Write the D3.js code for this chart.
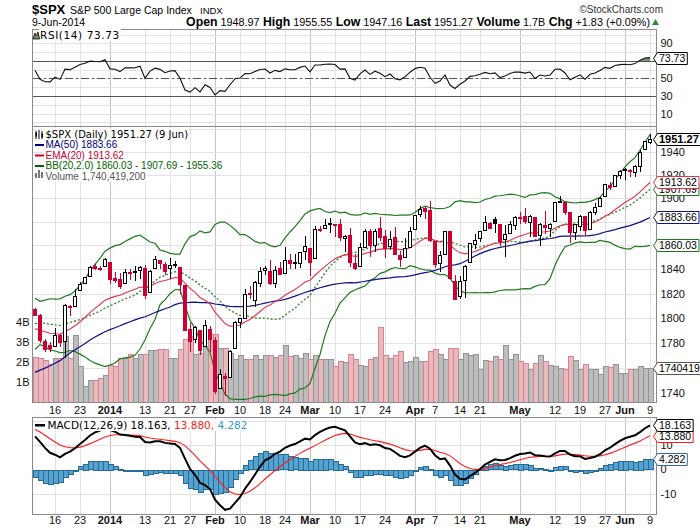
<!DOCTYPE html>
<html>
<head>
<meta charset="utf-8">
<script src="https://cdn.jsdelivr.net/npm/d3@7"></script>
<style>
  body { margin: 0; background: #fff; }
  svg { display: block; }
</style>
</head>
<body>
<div id="chart"></div>
<script>
// trading days shown, Dec 10 2013 .. Jun 9 2014 (MM-DD)
const days = ("12-10 12-11 12-12 12-13 12-16 12-17 12-18 12-19 12-20 12-23 12-24 12-26 12-27 12-30 12-31 " +
  "01-02 01-03 01-06 01-07 01-08 01-09 01-10 01-13 01-14 01-15 01-16 01-17 01-21 01-22 01-23 01-24 01-27 01-28 01-29 01-30 01-31 " +
  "02-03 02-04 02-05 02-06 02-07 02-10 02-11 02-12 02-13 02-14 02-18 02-19 02-20 02-21 02-24 02-25 02-26 02-27 02-28 " +
  "03-03 03-04 03-05 03-06 03-07 03-10 03-11 03-12 03-13 03-14 03-17 03-18 03-19 03-20 03-21 03-24 03-25 03-26 03-27 03-28 03-31 " +
  "04-01 04-02 04-03 04-04 04-07 04-08 04-09 04-10 04-11 04-14 04-15 04-16 04-17 04-21 04-22 04-23 04-24 04-25 04-28 04-29 04-30 " +
  "05-01 05-02 05-05 05-06 05-07 05-08 05-09 05-12 05-13 05-14 05-15 05-16 05-19 05-20 05-21 05-22 05-23 05-27 05-28 05-29 05-30 " +
  "06-02 06-03 06-04 06-05 06-06 06-09").split(" ")

const open = [
  1807.60,1802.76,1781.71,1777.98,1777.48,1786.47,1781.46,1809.00,1810.39,1822.92,
  1828.02,1834.96,1842.97,1841.47,1842.61,1845.86,1833.21,1832.31,1828.71,1837.90,
  1839.00,1840.06,1841.26,1821.36,1840.52,1847.99,1844.23,1841.05,1844.71,1842.29,
  1826.96,1791.03,1783.00,1790.15,1777.17,1790.88,1782.68,1743.82,1753.38,1752.99,
  1776.01,1796.20,1800.45,1820.12,1814.82,1828.46,1839.03,1838.90,1829.24,1841.07,
  1836.78,1847.66,1845.79,1844.90,1855.12,1857.68,1849.23,1874.05,1874.18,1878.52,
  1877.86,1878.26,1866.15,1869.06,1845.07,1842.81,1858.92,1872.25,1860.09,1874.53,
  1867.67,1859.48,1867.09,1852.11,1850.07,1859.16,1873.96,1886.61,1891.43,1890.25,
  1863.92,1845.48,1852.64,1872.28,1830.65,1818.18,1831.45,1846.01,1861.73,1865.79,
  1872.57,1879.32,1881.97,1877.72,1865.00,1870.78,1877.10,1884.39,1885.30,1879.45,
  1883.69,1868.53,1877.39,1875.27,1880.03,1896.75,1897.13,1888.16,1871.19,1876.66,
  1884.88,1873.34,1888.19,1893.32,1902.01,1911.77,1910.60,1920.33,1923.87,1923.07,
  1923.06,1928.52,1942.41,1948.97]

const high = [
  1808.52,1802.97,1782.99,1780.92,1792.22,1786.77,1811.08,1810.88,1823.75,1829.75,
  1833.32,1842.84,1844.89,1842.47,1849.44,1845.86,1838.24,1837.16,1840.10,1840.02,
  1843.23,1843.15,1843.45,1839.26,1850.84,1847.99,1846.04,1849.31,1846.87,1842.29,
  1826.96,1795.98,1793.87,1790.15,1798.77,1793.88,1784.83,1758.73,1755.79,1774.06,
  1798.03,1799.94,1823.54,1826.55,1830.25,1841.65,1842.87,1847.50,1842.79,1846.13,
  1858.71,1852.91,1852.65,1854.53,1867.92,1857.68,1876.23,1876.53,1881.94,1883.57,
  1877.87,1882.35,1868.38,1874.40,1852.44,1862.30,1873.76,1874.14,1873.49,1883.97,
  1873.34,1871.87,1875.92,1855.55,1866.63,1875.18,1885.84,1893.17,1893.80,1897.28,
  1864.04,1854.95,1872.43,1872.53,1835.07,1834.19,1844.02,1862.31,1869.63,1871.89,
  1884.89,1879.75,1884.06,1877.72,1877.01,1880.60,1885.20,1888.59,1891.33,1885.51,
  1883.69,1878.83,1889.07,1878.57,1897.13,1902.17,1897.13,1888.16,1878.28,1886.00,
  1884.88,1888.80,1896.33,1901.26,1912.28,1914.46,1920.03,1924.03,1925.88,1925.07,
  1928.63,1941.74,1949.44,1955.55]

const low = [
  1801.75,1780.09,1772.28,1772.45,1777.48,1777.05,1767.99,1801.35,1810.25,1822.92,
  1828.02,1834.96,1839.81,1838.77,1842.41,1827.74,1829.13,1823.73,1828.71,1831.40,
  1830.38,1832.43,1815.52,1821.36,1840.52,1840.30,1835.23,1832.38,1840.88,1820.06,
  1790.29,1772.88,1779.49,1770.45,1777.17,1772.26,1739.66,1743.82,1737.92,1752.99,
  1776.01,1791.83,1800.41,1815.97,1809.22,1825.59,1835.01,1826.99,1824.58,1835.60,
  1836.78,1840.19,1840.66,1841.13,1847.67,1834.44,1849.23,1871.11,1874.18,1870.56,
  1867.04,1863.88,1854.38,1841.86,1839.57,1842.81,1858.92,1850.35,1854.63,1863.46,
  1849.69,1855.96,1852.56,1842.11,1850.07,1859.16,1873.96,1883.79,1882.65,1863.26,
  1841.48,1837.49,1852.38,1830.87,1814.36,1815.80,1816.29,1846.01,1856.72,1863.18,
  1872.57,1873.91,1870.24,1859.70,1850.61,1870.78,1872.69,1878.04,1878.50,1866.77,
  1867.72,1859.79,1870.05,1867.02,1880.03,1896.06,1885.77,1862.36,1864.82,1872.42,
  1868.14,1873.34,1885.39,1893.32,1902.01,1907.30,1909.82,1916.64,1915.98,1918.79,
  1918.60,1922.93,1942.41,1947.16]

const close = [
  1802.62,1782.22,1775.50,1775.32,1786.54,1781.00,1810.65,1809.60,1818.32,1827.99,
  1833.32,1842.02,1841.40,1841.07,1848.36,1831.98,1831.37,1826.77,1837.88,1837.49,
  1838.13,1842.37,1819.20,1838.88,1848.38,1845.89,1838.70,1843.80,1844.86,1828.46,
  1790.29,1781.56,1792.50,1774.20,1794.19,1782.59,1741.89,1755.20,1751.64,1773.43,
  1797.02,1799.84,1819.75,1819.26,1829.83,1838.63,1840.76,1828.75,1839.78,1836.25,
  1847.61,1845.12,1845.16,1854.29,1859.45,1845.73,1873.91,1873.81,1877.03,1878.04,
  1877.17,1867.63,1868.20,1846.34,1841.13,1858.83,1872.25,1860.77,1872.01,1866.52,
  1857.44,1865.62,1852.56,1849.04,1857.62,1872.34,1885.52,1890.90,1888.77,1865.09,
  1845.04,1851.96,1872.18,1833.08,1815.69,1830.61,1842.98,1862.31,1864.85,1871.89,
  1879.55,1875.39,1878.61,1863.40,1869.43,1878.33,1883.95,1883.68,1881.14,1884.66,
  1867.72,1878.21,1875.63,1878.48,1896.65,1897.45,1888.53,1870.85,1877.86,1885.08,
  1872.83,1888.03,1892.49,1900.53,1911.91,1909.78,1920.03,1923.57,1924.97,1924.24,
  1927.88,1940.46,1949.44,1951.27]

// volume in billions of shares
const volume = [
  2.28,2.23,2.12,1.92,2.23,2.23,3.33,2.23,3.37,1.83,
  0.80,1.12,1.12,1.25,1.37,1.87,1.83,2.23,2.23,2.42,
  2.23,2.42,2.42,2.63,2.63,2.68,2.67,2.23,2.23,2.67,
  3.17,3.33,2.42,2.50,2.83,3.42,3.42,2.75,2.75,2.50,
  2.17,2.37,2.17,2.17,2.37,2.15,2.37,2.37,2.28,2.37,
  2.87,2.32,2.37,2.25,2.50,2.17,2.37,2.17,2.17,2.17,
  1.83,2.08,2.03,2.42,2.17,1.87,1.83,2.17,2.28,3.78,
  2.37,2.25,2.37,2.58,2.05,2.08,2.30,2.08,2.08,2.58,
  2.67,2.42,2.17,2.75,2.75,2.17,2.50,2.40,2.43,1.67,
  2.12,2.08,2.33,2.17,2.87,2.17,2.42,2.08,2.00,1.67,
  2.00,2.37,2.08,1.88,1.83,1.75,1.70,2.33,2.12,1.67,
  1.92,1.70,1.67,1.42,1.83,1.78,1.92,1.50,1.50,1.70,
  1.70,1.83,1.75,1.74]

// closes Sep 30 .. Dec 9 2013, needed to start the moving averages
const priorClose = [
  1681.55,1695.00,1693.87,1678.66,1690.50,1676.12,1655.45,1656.40,1692.56,1703.20,
  1710.14,1698.06,1721.54,1733.15,1744.50,1744.66,1754.67,1746.38,1752.07,1759.77,
  1762.11,1771.95,1763.31,1756.54,1761.64,1767.93,1762.97,1770.49,1747.15,1770.61,
  1771.89,1767.69,1782.00,1790.62,1798.18,1791.53,1787.87,1781.37,1795.85,1804.76,
  1802.48,1802.75,1807.23,1805.81,1800.90,1795.15,1792.81,1785.03,1805.09,1808.37]

const tickDays = ["12-16","12-23","01-02","01-13","01-21","01-27","02-03","02-10","02-18","02-24",
  "03-03","03-10","03-17","03-24","04-01","04-07","04-14","04-21","05-01","05-12","05-19","05-27","06-02","06-09"]
const tickLabels = ["16","23","2014","13","21","27","Feb","10","18","24",
  "Mar","10","17","24","Apr","7","14","21","May","12","19","27","Jun","9"]

const priceTicks = [1740,1760,1780,1800,1820,1840,1860,1880,1900,1920,1940,1960]
const volumeTicks = [1,2,3,4]
const rsiTicks = [90,70,50,30,10]
const macdTicks = [10,0,-10]

// last values as printed on the chart
const lastPrice = 1951.27, lastMA50 = 1883.66, lastEMA20 = 1913.62
const lastBB = [1860.03, 1907.69, 1955.36]
const lastVolume = 1740419200, lastRSI = 73.73
const lastMACD = [18.163, 13.880, 4.282]

// ---------- indicators (standard definitions) ----------
const all = priorClose.concat(close)
const off = priorClose.length

function sma(arr, n) {
  return arr.map((_, i) => i < n - 1 ? null : d3.mean(arr.slice(i - n + 1, i + 1)))
}
function ema(arr, n) {
  const k = 2 / (n + 1)
  const s = arr.findIndex(v => v != null)
  const out = arr.map(() => null)
  let prev = d3.mean(arr.slice(s, s + n))
  out[s + n - 1] = prev
  for (let i = s + n; i < arr.length; i++) {
    prev = arr[i] * k + prev * (1 - k)
    out[i] = prev
  }
  return out
}
function stdev(arr, n) {
  return arr.map((_, i) => {
    if (i < n - 1) return null
    const w = arr.slice(i - n + 1, i + 1), m = d3.mean(w)
    return Math.sqrt(d3.mean(w, v => (v - m) * (v - m)))
  })
}
function rsi(arr, n) {
  const out = arr.map(() => null)
  let g = 0, l = 0
  for (let i = 1; i <= n; i++) {
    const d = arr[i] - arr[i - 1]
    if (d > 0) g += d; else l -= d
  }
  g /= n; l /= n
  out[n] = 100 - 100 / (1 + g / l)
  for (let i = n + 1; i < arr.length; i++) {
    const d = arr[i] - arr[i - 1]
    g = (g * (n - 1) + Math.max(d, 0)) / n
    l = (l * (n - 1) + Math.max(-d, 0)) / n
    out[i] = 100 - 100 / (1 + g / l)
  }
  return out
}

const ma50 = sma(all, 50).slice(off)
const ema20 = ema(all, 20).slice(off)
const mid20 = sma(all, 20)
const sd20 = stdev(all, 20)
const bbUp = mid20.map((m, i) => m == null ? null : m + 2 * sd20[i]).slice(off)
const bbDn = mid20.map((m, i) => m == null ? null : m - 2 * sd20[i]).slice(off)
const bbMid = mid20.slice(off)
const rsi14 = rsi(all, 14).slice(off)
const e12 = ema(all, 12), e26 = ema(all, 26)
const macdAll = e12.map((v, i) => (v == null || e26[i] == null) ? null : v - e26[i])
const sigAll = ema(macdAll, 9)
const macd = macdAll.slice(off)
const signal = sigAll.slice(off)
const hist = macd.map((v, i) => v - signal[i])

// ---------- layout ----------
const WIDTH = 700, HEIGHT = 530
const LEFT = 32.5, RIGHT = 656.5
const RSI_P = [29.5, 126.5], MAIN_P = [126.5, 402.5], MACD_P = [417.5, 514.5]
const RED = "#cc0033", GRID = "#e2e2e2", GRID_M = "#c4c4c4", BORDER = "#8a8a8a"
const SANS = "'Liberation Sans', Arial, sans-serif"
const VERD = "'DejaVu Sans', Verdana, sans-serif"

const n = close.length
const idx = d3.range(n)

const x = d3.scaleLinear().domain([-0.5, n + 0.3]).range([LEFT, RIGHT])
const yP = d3.scaleLog().domain([1732.7, 1962.6]).range([MAIN_P[1], MAIN_P[0]])
const yV = d3.scaleLinear().domain([0, 13.8]).range([MAIN_P[1], MAIN_P[0]])
const yR = d3.scaleLinear().domain([-4.6, 105.7]).range([RSI_P[1], RSI_P[0]])
const yM = d3.scaleLinear().domain([-18.5, 21.4]).range([MACD_P[1], MACD_P[0]])

const svg = d3.select("#chart").append("svg")
  .attr("width", WIDTH).attr("height", HEIGHT)
  .style("font-family", SANS)

const defs = svg.append("defs")
function clip(id, top, bottom) {
  defs.append("clipPath").attr("id", id).append("rect")
    .attr("x", LEFT).attr("y", top).attr("width", RIGHT - LEFT).attr("height", bottom - top)
}
clip("cRsi", RSI_P[0], RSI_P[1])
clip("cMain", MAIN_P[0], MAIN_P[1])
clip("cMacd", MACD_P[0], MACD_P[1])
clip("cRsiHi", RSI_P[0], yR(70))
clip("cRsiLo", yR(30), RSI_P[1])

const tickIdx = tickDays.map(d => days.indexOf(d))
const isMonth = l => isNaN(+l) || l.length === 4
const px = k => Math.round(x(k)) + 0.5

// ---------- grids ----------
function panelGrid(panel, yScale, values) {
  const g = svg.append("g").attr("shape-rendering", "crispEdges")
  g.selectAll("line.v").data(tickIdx).join("line")
    .attr("x1", k => px(k)).attr("x2", k => px(k))
    .attr("y1", panel[0]).attr("y2", panel[1])
    .attr("stroke", (k, i) => isMonth(tickLabels[i]) ? GRID_M : GRID)
  g.selectAll("line.h").data(values).join("line")
    .attr("x1", LEFT).attr("x2", RIGHT)
    .attr("y1", v => Math.round(yScale(v)) + 0.5).attr("y2", v => Math.round(yScale(v)) + 0.5)
    .attr("stroke", GRID)
}
panelGrid(RSI_P, yR, d3.range(0, 101, 10))
panelGrid(MAIN_P, yP, priceTicks)
panelGrid(MACD_P, yM, [-10, 0, 10, 20])

// ---------- RSI panel ----------
const rsiG = svg.append("g")
;[70, 30].forEach(v => rsiG.append("line")
  .attr("x1", LEFT).attr("x2", RIGHT).attr("y1", Math.round(yR(v)) + 0.5).attr("y2", Math.round(yR(v)) + 0.5)
  .attr("stroke", "#555").attr("shape-rendering", "crispEdges"))
rsiG.append("line")
  .attr("x1", LEFT).attr("x2", RIGHT).attr("y1", Math.round(yR(50)) + 0.5).attr("y2", Math.round(yR(50)) + 0.5)
  .attr("stroke", "#555").attr("stroke-dasharray", "8,3,2,3").attr("shape-rendering", "crispEdges")

const rsiArea = d3.area().x(k => x(k)).y1(k => yR(rsi14[k]))
rsiG.append("path").datum(idx).attr("d", rsiArea.y0(yR(70)))
  .attr("fill", "#6f946f").attr("clip-path", "url(#cRsiHi)")
rsiG.append("path").datum(idx).attr("d", rsiArea.y0(yR(30)))
  .attr("fill", "#6f946f").attr("clip-path", "url(#cRsiLo)")
rsiG.append("path").datum(idx)
  .attr("d", d3.line().x(k => x(k)).y(k => yR(rsi14[k])))
  .attr("fill", "none").attr("stroke", "#111").attr("stroke-width", 1.1)
  .attr("clip-path", "url(#cRsi)")

// ---------- main panel ----------
const mainG = svg.append("g").attr("clip-path", "url(#cMain)")
const prevClose = k => k === 0 ? priorClose[priorClose.length - 1] : close[k - 1]
const isDown = k => close[k] < prevClose(k)

mainG.append("g").attr("shape-rendering", "crispEdges")
  .selectAll("rect").data(idx).join("rect")
  .attr("x", k => Math.round(x(k)) - 2).attr("width", 5)
  .attr("y", k => Math.round(yV(volume[k]))).attr("height", k => MAIN_P[1] - Math.round(yV(volume[k])))
  .attr("fill", k => isDown(k) ? "#e8b9be" : "#bdbdbd")
  .attr("stroke", k => isDown(k) ? "#d8848f" : "#939393")
  .attr("stroke-width", 1)

const line = arr => d3.line().defined(k => arr[k] != null).x(k => x(k)).y(k => yP(arr[k]))
mainG.append("path").datum(idx).attr("d", line(bbUp)).attr("fill", "none").attr("stroke", "#1f7a1f").attr("stroke-width", 1.2)
mainG.append("path").datum(idx).attr("d", line(bbDn)).attr("fill", "none").attr("stroke", "#1f7a1f").attr("stroke-width", 1.2)
mainG.append("path").datum(idx).attr("d", line(bbMid)).attr("fill", "none").attr("stroke", "#3a8a3a")
  .attr("stroke-width", 1.4).attr("stroke-dasharray", "2,2")
mainG.append("path").datum(idx).attr("d", line(ma50)).attr("fill", "none").attr("stroke", "#10108a").attr("stroke-width", 1.2)
mainG.append("path").datum(idx).attr("d", line(ema20)).attr("fill", "none").attr("stroke", "#e2334f").attr("stroke-width", 1.1)

const candles = mainG.append("g").attr("shape-rendering", "crispEdges")
candles.selectAll("line").data(idx).join("line")
  .attr("x1", k => px(k)).attr("x2", k => px(k))
  .attr("y1", k => yP(high[k])).attr("y2", k => yP(low[k]))
  .attr("stroke", k => isDown(k) ? RED : "#000")
candles.selectAll("rect").data(idx).join("rect")
  .attr("x", k => Math.round(x(k)) - 1.5).attr("width", 3)
  .attr("y", k => Math.round(yP(Math.max(open[k], close[k]))) + 0.5)
  .attr("height", k => Math.max(1, Math.round(Math.abs(yP(open[k]) - yP(close[k])))))
  .attr("fill", k => close[k] >= open[k] ? "#fff" : (isDown(k) ? RED : "#000"))
  .attr("stroke", k => isDown(k) ? RED : "#000")

// ---------- MACD panel ----------
const macdG = svg.append("g").attr("clip-path", "url(#cMacd)")
macdG.append("g").attr("shape-rendering", "crispEdges")
  .selectAll("rect").data(idx).join("rect")
  .attr("x", k => Math.round(x(k)) - 2).attr("width", 5)
  .attr("y", k => Math.round(Math.min(yM(hist[k]), yM(0))))
  .attr("height", k => Math.max(1, Math.round(Math.abs(yM(hist[k]) - yM(0)))))
  .attr("fill", "#57a3cf").attr("stroke", "#276b98")
macdG.append("path").datum(idx)
  .attr("d", d3.line().x(k => x(k)).y(k => yM(signal[k])))
  .attr("fill", "none").attr("stroke", "#ff1a1a").attr("stroke-width", 1.1)
macdG.append("path").datum(idx)
  .attr("d", d3.line().x(k => x(k)).y(k => yM(macd[k])))
  .attr("fill", "none").attr("stroke", "#000").attr("stroke-width", 2)

// ---------- panel borders ----------
;[RSI_P, MAIN_P, MACD_P].forEach(p => svg.append("rect")
  .attr("x", LEFT).attr("y", p[0]).attr("width", RIGHT - LEFT).attr("height", p[1] - p[0])
  .attr("fill", "none").attr("stroke", BORDER).attr("shape-rendering", "crispEdges"))

// ---------- axes labels ----------
// labels that sit right under a value tag are hidden by it on the original
const clear = (scale, tags) => v => tags.every(t => Math.abs(scale(v) - scale(t)) > 5)
function rightLabels(values, scale) {
  svg.append("g").selectAll("text").data(values).join("text")
    .attr("x", RIGHT + 4).attr("y", v => scale(v)).attr("dy", "0.36em")
    .attr("font-size", 11).attr("fill", "#111").text(v => v)
}
rightLabels(rsiTicks.filter(clear(yR, [lastRSI])), yR)
rightLabels(priceTicks.filter(v => v < 1950)
  .filter(clear(yP, [lastMA50, lastBB[0]]))
  .filter(v => Math.abs(yP(v) - yV(lastVolume / 1e9)) > 5), yP)
rightLabels(macdTicks, yM)

svg.append("g").selectAll("text").data(volumeTicks).join("text")
  .attr("x", LEFT - 3).attr("y", v => yV(v)).attr("dy", "0.36em").attr("text-anchor", "end")
  .attr("font-size", 11).attr("fill", "#111").text(v => v + "B")

;[414, 524].forEach(yy => svg.append("g").selectAll("text").data(tickIdx).join("text")
  .attr("x", k => x(k)).attr("y", yy).attr("text-anchor", "middle")
  .attr("font-size", 11).attr("fill", "#111")
  .attr("font-weight", (k, i) => isMonth(tickLabels[i]) ? "bold" : "normal")
  .text((k, i) => tickLabels[i]))

// ---------- value tags ----------
function tag(y, text, color, bold) {
  const g = svg.append("g").attr("transform", `translate(${RIGHT},${Math.round(y) + 0.5})`)
  const t = g.append("text").attr("x", 2.5).attr("dy", "0.36em")
    .attr("font-size", bold ? 11 : 10.5).attr("font-weight", bold ? "bold" : "normal")
    .attr("fill", "#000").text(text)
  const w = t.node().getComputedTextLength() + 2.5
  g.insert("path", "text")
    .attr("d", `M-3,0 L1,-6 H${2 + w} V6 H1 Z`)
    .attr("fill", "#fff").attr("stroke", color).attr("stroke-width", 1)
}
tag(yR(lastRSI), lastRSI.toFixed(2), "#000")
tag(yV(lastVolume / 1e9), String(lastVolume), "#555")
tag(yP(lastBB[0]), lastBB[0].toFixed(2), "#1f7a1f")
tag(yP(lastMA50), lastMA50.toFixed(2), "#10108a")
tag(yP(lastBB[1]), lastBB[1].toFixed(2), "#1f7a1f")
tag(yP(lastEMA20), lastEMA20.toFixed(2), "#e2334f")
tag(yP(lastPrice), lastPrice.toFixed(2), "#000", true)
tag(yM(lastMACD[2]), lastMACD[2].toFixed(3), "#3465a4")
tag(yM(lastMACD[1]), lastMACD[1].toFixed(3), "#ff1a1a")
tag(yM(lastMACD[0]), lastMACD[0].toFixed(3), "#000")

// ---------- legends ----------
function backed(g) {
  g.selectAll("text").each(function () {
    const b = this.getBBox()
    g.insert("rect", "text").attr("x", b.x - 1).attr("y", b.y).attr("width", b.width + 2).attr("height", b.height)
      .attr("fill", "#fff")
  })
}
const lg = svg.append("g")
lg.append("text").attr("x", 45.5).attr("y", 137.5).attr("font-family", VERD).attr("font-size", 10)
  .attr("fill", "#000").text(`$SPX (Daily) ${lastPrice.toFixed(2)} (9 Jun)`)
const legendRows = [
  [`MA(50) ${lastMA50.toFixed(2)}`, "#000080"],
  [`EMA(20) ${lastEMA20.toFixed(2)}`, RED],
  [`BB(20,2.0) ${lastBB[0].toFixed(2)} - ${lastBB[1].toFixed(2)} - ${lastBB[2].toFixed(2)}`, "#006400"],
  [`Volume ${d3.format(",")(lastVolume)}`, "#555"]
]
legendRows.forEach((r, i) => lg.append("text").attr("x", 45.5).attr("y", 148 + i * 10.5)
  .attr("font-size", 10).attr("fill", r[1]).text(r[0]))
backed(lg)
legendRows.slice(0, 3).forEach((r, i) => lg.append("rect").attr("x", 35).attr("y", 144 + i * 10.5)
  .attr("width", 9).attr("height", 2).attr("fill", r[1]))
// candle icon
lg.append("path").attr("d", "M36,131 v8 M39,130 v9 M42,131 v8").attr("stroke", "#000")
lg.append("rect").attr("x", 35.5).attr("y", 132.5).attr("width", 1.5).attr("height", 4).attr("fill", "#000")
lg.append("rect").attr("x", 41.5).attr("y", 133.5).attr("width", 1.5).attr("height", 4).attr("fill", "#000")
// volume icon
lg.append("path").attr("d", "M35,178 h2 v-5 h-2z M38,178 h2 v-8 h-2z M41,178 h2 v-6 h-2z").attr("fill", "#777")

const rg = svg.append("g")
rg.append("text").attr("x", 40).attr("y", 39).attr("font-family", VERD).attr("font-size", 10.5)
  .attr("letter-spacing", 0.6).attr("fill", "#000").text(`RSI(14) ${lastRSI.toFixed(2)}`)
backed(rg)
rg.append("path").attr("d", "M33,39 L35,33 L36.5,36 L38,32 L39.5,39 Z")
  .attr("fill", "#6f946f").attr("stroke", "#000").attr("stroke-width", 0.8)

const mg = svg.append("g")
const mt = mg.append("text").attr("x", 47.5).attr("y", 429).attr("font-family", VERD).attr("font-size", 10.5)
mt.append("tspan").attr("fill", "#000").text(`MACD(12,26,9) ${lastMACD[0].toFixed(3)}, `)
mt.append("tspan").attr("fill", "#ff1a1a").text(`${lastMACD[1].toFixed(3)}, `)
mt.append("tspan").attr("fill", "#3399cc").text(lastMACD[2].toFixed(3))
backed(mg)
mg.append("rect").attr("x", 35).attr("y", 424).attr("width", 10).attr("height", 2.5).attr("fill", "#000")

// ---------- header ----------
const hd = svg.append("g")
hd.append("text").attr("x", 32).attr("y", 14).attr("font-size", 13).attr("font-weight", "bold").text("$SPX")
hd.append("text").attr("x", 70).attr("y", 14).attr("font-size", 10.5).text("S&P 500 Large Cap Index")
hd.append("text").attr("x", 200).attr("y", 14).attr("font-size", 9.5).text("INDX")
hd.append("text").attr("x", 663).attr("y", 13).attr("font-size", 10).attr("text-anchor", "end")
  .attr("fill", "#333").text("©StockCharts.com")
hd.append("text").attr("x", 32).attr("y", 26).attr("font-size", 10.5).text("9-Jun-2014")
const quote = [["Open", "1948.97"], ["High", "1955.55"], ["Low", "1947.16"], ["Last", "1951.27"],
  ["Volume", "1.7B"], ["Chg", "+1.83 (+0.09%)"]]
const qt = hd.append("text").attr("x", 650).attr("y", 26).attr("text-anchor", "end")
quote.forEach((q, i) => {
  qt.append("tspan").attr("font-weight", "bold").attr("font-size", 12.3).text((i ? " " : "") + q[0])
  qt.append("tspan").attr("font-size", 10.8).text(" " + q[1])
})
hd.append("path").attr("d", "M652,25 L659,25 L655.5,19 Z").attr("fill", "#2b8a2b")
</script>
</body>
</html>
